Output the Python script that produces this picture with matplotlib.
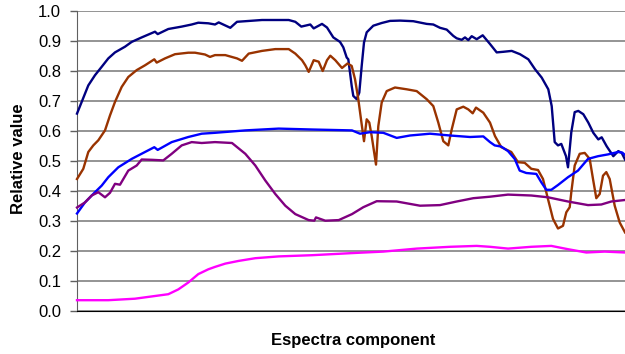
import matplotlib
matplotlib.use("Agg")
import matplotlib.pyplot as plt

# component index and relative values per series
navy_x = [0, 4.7, 11.3, 18, 24.7, 31.3, 38, 48, 54.7, 64.7, 78, 80.7, 91.3, 104.7, 114.7, 121.3, 131.3, 138,
          141.7, 153.3, 160, 185, 211.7, 218.3, 224.3, 233.3, 236.7, 245, 250, 256.3, 263, 266.3, 269.7, 271.3,
          273, 274.7, 276.3, 279.7, 282.3, 284.7, 287, 289.7, 296.3, 304.7, 313, 323, 336.3, 349.7, 356.3, 363,
          369.7, 376.3, 379.7, 384.7, 388, 391.3, 394.7, 399.7, 405.7, 413, 419.7, 426.3, 434.7, 443, 451.3, 458,
          464.7, 471.3, 474.7, 477.7, 481, 484.3, 489, 491, 494.3, 497.7, 501.3, 506.3, 511.3, 516.3, 521.3,
          524.7, 529.7, 536.3, 541.3, 544.7, 548]
navy_y = [0.658, 0.697, 0.752, 0.786, 0.814, 0.842, 0.862, 0.881, 0.897, 0.912, 0.931, 0.923, 0.940, 0.948,
          0.955, 0.961, 0.959, 0.955, 0.962, 0.944, 0.964, 0.970, 0.970, 0.964, 0.948, 0.955, 0.942, 0.957,
          0.945, 0.912, 0.897, 0.879, 0.845, 0.839, 0.795, 0.750, 0.717, 0.706, 0.728, 0.817, 0.895, 0.929,
          0.951, 0.960, 0.967, 0.968, 0.966, 0.957, 0.955, 0.944, 0.938, 0.917, 0.909, 0.904, 0.912, 0.903,
          0.916, 0.906, 0.919, 0.890, 0.862, 0.864, 0.867, 0.856, 0.839, 0.806, 0.778, 0.739, 0.683, 0.563,
          0.552, 0.557, 0.516, 0.479, 0.596, 0.663, 0.667, 0.656, 0.628, 0.594, 0.572, 0.579, 0.549, 0.516,
          0.533, 0.527, 0.505]

brown_x = [0, 6.3, 11.3, 16.3, 21.3, 28, 33, 38, 44.7, 51.3, 59.7, 68, 77.3, 79.7, 88, 98, 111.3, 118, 128,
           133, 138, 148.3, 160, 165, 171.7, 185, 198.3, 211.7, 218.3, 225, 228.3, 231.7, 236.7, 241.7, 245.7,
           250, 253.3, 258.3, 265, 270.5, 274.7, 278, 281.3, 284, 287, 289.7, 292.3, 294.7, 299, 301.3, 304.7,
           309.7, 318, 329.7, 339.7, 349.7, 356.3, 361.3, 366.3, 371.3, 374.7, 379.7, 386.3, 391.3, 395.7, 399,
           406.3, 413, 418, 424.3, 434.3, 441, 447.7, 454.3, 461, 466, 471, 476, 481, 486, 489.3, 492.7, 494.3,
           497.7, 502.7, 507.7, 512.7, 516, 519.3, 522.7, 526, 529.3, 532.7, 537.7, 542.7, 548]
brown_y = [0.440, 0.474, 0.530, 0.552, 0.569, 0.602, 0.652, 0.697, 0.747, 0.780, 0.803, 0.819, 0.839, 0.828,
           0.842, 0.856, 0.861, 0.861, 0.855, 0.847, 0.853, 0.853, 0.842, 0.834, 0.858, 0.867, 0.873, 0.873,
           0.858, 0.836, 0.819, 0.797, 0.836, 0.831, 0.800, 0.836, 0.851, 0.836, 0.810, 0.825, 0.817, 0.773,
           0.706, 0.639, 0.566, 0.639, 0.628, 0.583, 0.488, 0.616, 0.695, 0.733, 0.745, 0.739, 0.733, 0.706,
           0.683, 0.628, 0.566, 0.552, 0.605, 0.672, 0.681, 0.672, 0.659, 0.678, 0.661, 0.628, 0.583, 0.546,
           0.530, 0.496, 0.494, 0.474, 0.470, 0.440, 0.373, 0.307, 0.275, 0.284, 0.329, 0.346, 0.396, 0.485,
           0.524, 0.527, 0.507, 0.440, 0.376, 0.390, 0.451, 0.463, 0.440, 0.351, 0.295, 0.262]

blue_x = [0, 8, 18, 24.7, 31.3, 41.3, 54.7, 68, 77.3, 80.7, 94.7, 111.3, 124.7, 138, 168.3, 201.7, 235, 275,
          283, 293, 306.3, 319.7, 333, 353, 373, 393, 406.3, 413, 417.7, 424.3, 431, 437.7, 442.7, 449.3, 459.3,
          464.3, 469.3, 474.3, 481, 491, 501, 511, 521, 531, 541, 545.3, 548]
blue_y = [0.325, 0.362, 0.396, 0.418, 0.446, 0.479, 0.507, 0.530, 0.546, 0.537, 0.563, 0.580, 0.591, 0.594,
          0.602, 0.608, 0.605, 0.602, 0.591, 0.596, 0.594, 0.577, 0.585, 0.591, 0.585, 0.580, 0.582, 0.563,
          0.552, 0.548, 0.533, 0.507, 0.468, 0.460, 0.457, 0.429, 0.404, 0.404, 0.420, 0.446, 0.468, 0.507,
          0.516, 0.522, 0.530, 0.528, 0.520]

purple_x = [0, 8, 14.7, 21.3, 28, 33, 38, 43, 51.3, 59.7, 64.7, 74.7, 86.3, 94.7, 104.7, 114.7, 124.7, 138,
            155, 168.3, 178.3, 188.3, 198.3, 208.3, 218.3, 231.7, 237.3, 239, 248.3, 261.7, 275, 286.3, 299.7,
            319.7, 343, 363, 379.7, 396.3, 413, 431, 454.3, 471, 491, 511, 524.3, 534.3, 548]
purple_y = [0.345, 0.362, 0.385, 0.396, 0.379, 0.394, 0.424, 0.421, 0.468, 0.485, 0.505, 0.504, 0.502, 0.524,
            0.552, 0.563, 0.560, 0.563, 0.560, 0.524, 0.485, 0.435, 0.390, 0.351, 0.323, 0.303, 0.301, 0.312,
            0.301, 0.303, 0.323, 0.346, 0.366, 0.365, 0.351, 0.353, 0.365, 0.376, 0.381, 0.388, 0.385, 0.379,
            0.365, 0.353, 0.355, 0.365, 0.370]

magenta_x = [0, 31.3, 58, 78, 91.3, 101.3, 111.3, 121.3, 131.3, 138, 148.3, 161.7, 178.3, 201.7, 235, 275,
             306.3, 339.7, 373, 399.7, 413, 431, 454.3, 474.3, 491, 509.3, 527.7, 548]
magenta_y = [0.036, 0.036, 0.041, 0.050, 0.056, 0.072, 0.095, 0.123, 0.139, 0.147, 0.158, 0.167, 0.176, 0.182,
             0.186, 0.193, 0.198, 0.208, 0.214, 0.217, 0.214, 0.208, 0.214, 0.217, 0.206, 0.195, 0.198, 0.195]

y_ticks = [0.0, 0.1, 0.2, 0.3, 0.4, 0.5, 0.6, 0.7, 0.8, 0.9, 1.0]

plt.rcParams['font.family'] = ['Liberation Sans', 'DejaVu Sans']

fig = plt.figure(figsize=(6.25, 3.54), dpi=100)
ax = fig.add_axes([77 / 625, 1 - 311 / 354, 548 / 625, 300 / 354])

series = [(navy_x, navy_y, '#000080'),
          (brown_x, brown_y, '#993300'),
          (blue_x, blue_y, '#0000FF'),
          (purple_x, purple_y, '#800080'),
          (magenta_x, magenta_y, '#FF00FF')]
for xs, ys, col in series:
    ax.plot(xs, ys, color=col, lw=1.7, solid_joinstyle='round', clip_on=False, zorder=3)

ax.set_xlim(0, 548)
ax.set_ylim(0, 1.0)
ax.set_yticks(y_ticks)
ax.set_yticklabels(['%.1f' % t for t in y_ticks], fontsize=12)
ax.set_xticks([])

# excel-like gridlines
ax.yaxis.grid(True, color='#777777', lw=1.1)
ax.set_axisbelow(True)
for s in ['top', 'right']:
    ax.spines[s].set_visible(False)
ax.spines['left'].set_color('#606060')
ax.spines['bottom'].set_color('#000000')
ax.tick_params(axis='y', length=5, width=1, color='#606060', pad=6.5)

fig.text(19 / 625, 1 - 159 / 354, 'Relative value', rotation=90, ha='center', va='center',
         fontsize=12, fontweight='bold')
fig.text(353 / 625, 1 - 340 / 354, 'Espectra component', ha='center', va='center',
         fontsize=12, fontweight='bold')

fig.savefig('out.png', dpi=100)
